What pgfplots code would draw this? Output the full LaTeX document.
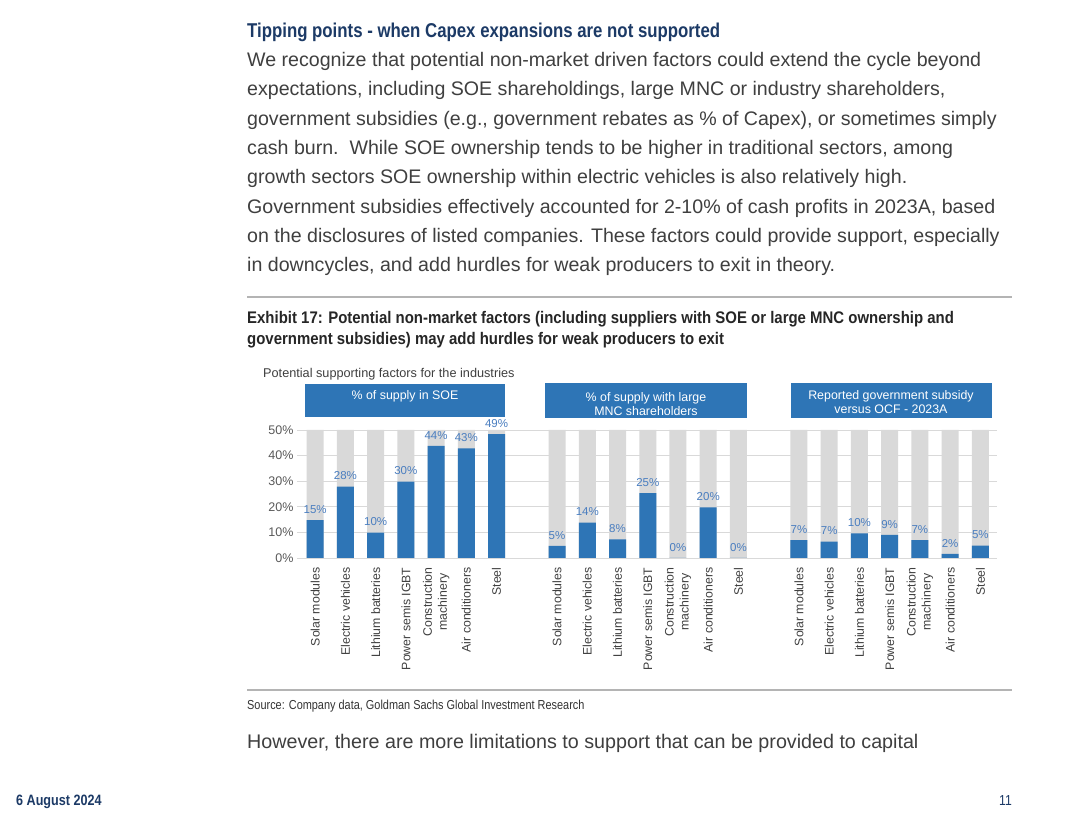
\documentclass[border=0pt]{standalone}
\usepackage{fontspec}
\setmainfont{Liberation Sans}
\newfontfamily\condfont[FakeStretch=0.84]{Liberation Sans}
\newfontfamily\condfontx[FakeStretch=0.89]{Liberation Sans}
\usepackage{pgfplots}
\pgfplotsset{compat=1.18}

\definecolor{gsblue}{HTML}{2E75B6}
\definecolor{lblblue}{HTML}{4A7EC0}
\definecolor{bggray}{HTML}{D9D9D9}
\definecolor{gridgray}{HTML}{D9D9D9}
\definecolor{navy}{HTML}{1C3A66}
\definecolor{bodygray}{HTML}{3F3F3F}
\definecolor{axgray}{HTML}{595959}
\definecolor{rulegray}{HTML}{B4B4B4}

\begin{document}
\begin{tikzpicture}[x=1pt,y=1pt]
\path[use as bounding box, fill=white] (0,0) rectangle (1080,818);

% page text
\node[anchor=base west, inner sep=0, text=navy, font=\condfont\fontsize{20}{22}\selectfont\bfseries]
  at (247,780) {Tipping points - when Capex expansions are not supported};

\begin{scope}[every node/.style={anchor=base west, inner sep=0, text=bodygray, font=\fontsize{19.6}{22}\selectfont}]
\node at (247,751) {We recognize that potential non-market driven factors could extend the cycle beyond};
\node at (247,722) {expectations, including SOE shareholdings, large MNC or industry shareholders,};
\node at (247,692) {government subsidies (e.g., government rebates as \% of Capex), or sometimes simply};
\node at (247,663) {cash burn.\ \ While SOE ownership tends to be higher in traditional sectors, among};
\node at (247,634) {growth sectors SOE ownership within electric vehicles is also relatively high.};
\node at (247,604) {Government subsidies effectively accounted for 2-10\% of cash profits in 2023A, based};
\node at (247,575) {on the disclosures of listed companies. These factors could provide support, especially};
\node at (247,546) {in downcycles, and add hurdles for weak producers to exit in theory.};
\end{scope}
\node[anchor=base west, inner sep=0, text=bodygray, font=\fontsize{19.7}{22}\selectfont]
  at (247,69) {However, there are more limitations to support that can be provided to capital};

\draw[rulegray, line width=1.5pt] (247,521) -- (1012,521);
\draw[rulegray, line width=1.5pt] (247,128) -- (1012,128);

\begin{scope}[every node/.style={anchor=base west, inner sep=0, text=black!85, font=\condfontx\fontsize{16.8}{18}\selectfont\bfseries}]
\node at (247,494) {Exhibit 17: Potential non-market factors (including suppliers with SOE or large MNC ownership and};
\node at (247,473) {government subsidies) may add hurdles for weak producers to exit};
\end{scope}

\node[anchor=base west, inner sep=0, text=black!80, font=\condfont\fontsize{13}{14}\selectfont]
  at (247,108) {Source: Company data, Goldman Sachs Global Investment Research};
\node[anchor=base west, inner sep=0, text=navy, font=\condfont\fontsize{15}{16}\selectfont\bfseries]
  at (16,12) {6 August 2024};
\node[anchor=base east, inner sep=0, text=navy, font=\condfont\fontsize{14.5}{16}\selectfont]
  at (1012,12) {11};

\node[anchor=base west, inner sep=0, text=bodygray, font=\fontsize{12.7}{14}\selectfont]
  at (263,440) {Potential supporting factors for the industries};

\begin{axis}[
    at={(297pt,260pt)}, anchor=south west,
    scale only axis, width=700pt, height=128pt,
    xmin=-0.6, xmax=22.55, ymin=0, ymax=50,
    axis line style={draw=none},
    ymajorgrids, grid style={gridgray, line width=0.8pt},
    ytick={0,10,20,30,40,50},
    yticklabel={\pgfmathprintnumber{\tick}\%},
    yticklabel style={font=\fontsize{12.5}{14}\selectfont, text=axgray},
    /pgf/number format/assume math mode=true,
    xtick={0,1,2,3,4,5,6,8,9,10,11,12,13,14,16,17,18,19,20,21,22},
    xticklabels={Solar modules, Electric vehicles, Lithium batteries, Power semis IGBT, {Construction\\machinery}, Air conditioners, Steel,
                 Solar modules, Electric vehicles, Lithium batteries, Power semis IGBT, {Construction\\machinery}, Air conditioners, Steel,
                 Solar modules, Electric vehicles, Lithium batteries, Power semis IGBT, {Construction\\machinery}, Air conditioners, Steel},
    xticklabel style={yshift=-6pt, rotate=90, anchor=east, align=center, font=\fontsize{12.3}{15}\selectfont, text=black!75},
    major tick length=0pt,
    clip=false,
]
% grey background bars (full 50%)
\addplot[ybar, bar width=17pt, bar shift=0pt, fill=bggray, draw=none] coordinates {
  (0,50) (1,50) (2,50) (3,50) (4,50) (5,50) (6,50)
  (8,50) (9,50) (10,50) (11,50) (12,50) (13,50) (14,50)
  (16,50) (17,50) (18,50) (19,50) (20,50) (21,50) (22,50)};
% values
\addplot[ybar, bar width=17pt, bar shift=0pt, fill=gsblue, draw=none,
    point meta=explicit symbolic,
    nodes near coords={\pgfplotspointmeta\%},
    nodes near coords style={font=\fontsize{11.5}{13}\selectfont, text=lblblue, inner sep=1.5pt, yshift=5pt}]
  coordinates {
  (0,14.8) [15] (1,27.9) [28] (2,9.9) [10] (3,29.8) [30] (4,43.8) [44] (5,42.8) [43] (6,48.4) [49]
  (8,4.7) [5] (9,13.8) [14] (10,7.3) [8] (11,25.3) [25] (12,0) [0] (13,19.8) [20] (14,0) [0]
  (16,7.0) [7] (17,6.4) [7] (18,9.6) [10] (19,9.0) [9] (20,7.0) [7] (21,1.6) [2] (22,4.8) [5]};
\end{axis}

% group header boxes
\fill[gsblue] (305,401) rectangle (505,434);
\node[text=white, font=\fontsize{12.4}{14}\selectfont] at (405,422) {\% of supply in SOE};
\fill[gsblue] (545,400) rectangle (747,435);
\node[text=white, font=\fontsize{12.4}{14}\selectfont, align=center] at (646,414) {\% of supply with large\\MNC shareholders};
\fill[gsblue] (791,400) rectangle (992,435);
\node[text=white, font=\fontsize{12.4}{14}\selectfont, align=center] at (891,416) {Reported government subsidy\\versus OCF - 2023A};
\end{tikzpicture}
\end{document}
